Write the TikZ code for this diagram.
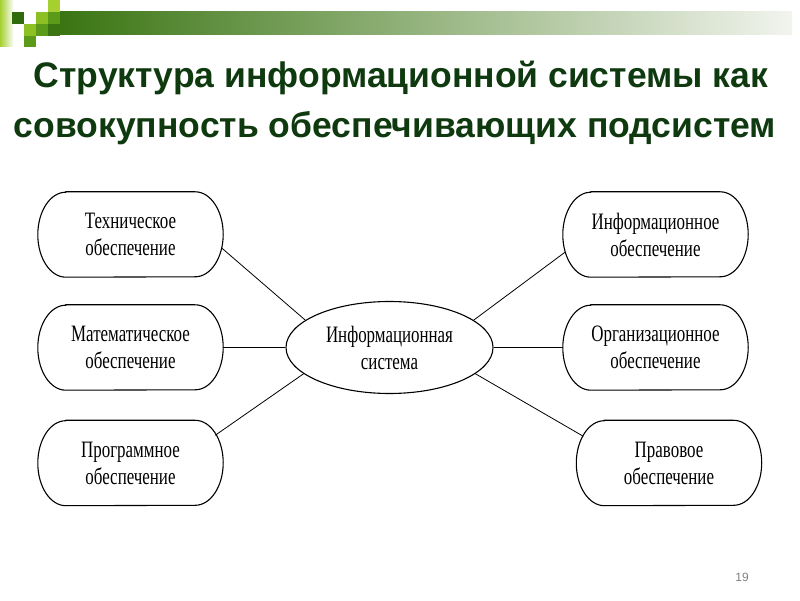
\documentclass[tikz,border=0pt]{standalone}
\usepackage{fontspec}
\setmainfont{Liberation Serif}
\newfontfamily\titlefont{Liberation Sans}
\newfontfamily\condfont[FakeStretch=0.72]{Liberation Serif}
\usetikzlibrary{shapes.geometric}
\definecolor{titlegreen}{HTML}{0F3A0F}
\definecolor{sqdark}{HTML}{2F6A0C}
\definecolor{sqmid}{HTML}{5C9A1A}
\definecolor{sqlight}{HTML}{8DC023}
\definecolor{sqpale}{HTML}{A6D030}
\definecolor{bardark}{HTML}{3A7512}
\definecolor{barend}{HTML}{F2F4EE}
\tikzset{
  box/.style={rectangle, draw=none, minimum width=185pt, minimum height=85pt, inner sep=0pt,
    align=center, font=\condfont\fontsize{23.5}{27}\selectfont},
  outline/.style={draw=black, line width=1.1pt},
  link/.style={draw=black, line width=0.8pt},
  sysnode/.style={ellipse, draw=black, line width=1.1pt, minimum width=207pt, minimum height=92pt,
    inner sep=0pt, align=center, font=\condfont\fontsize{23.5}{27}\selectfont},
  titletext/.style={anchor=base, text=titlegreen, font=\titlefont\bfseries\fontsize{35.5}{40}\selectfont}
}
\newcommand\stadiumpath[1]{%
  \draw[outline] ([xshift=28pt]#1.north west) -- ([xshift=-28pt]#1.north east)
    arc[start angle=90,end angle=-90,x radius=28pt,y radius=42.5pt]
    -- ([xshift=28pt]#1.south west)
    arc[start angle=270,end angle=90,x radius=28pt,y radius=42.5pt] -- cycle;}
\begin{document}
\begin{tikzpicture}[x=1pt,y=1pt]
\useasboundingbox[fill=white] (0,0) rectangle (800,600);
% header decoration
\shade[left color=sqpale, right color=white] (0,600) rectangle (14,553);
\shade[left color=bardark, right color=barend] (60,588) rectangle (792,565);
\fill[sqdark] (12,588) rectangle (24,576);
\fill[sqlight] (36,588) rectangle (48,576);
\fill[sqmid] (48,588) rectangle (60,576);
\fill[sqpale] (48,600) rectangle (60,588);
\fill[sqlight] (24,576) rectangle (36,564);
\fill[sqmid] (36,576) rectangle (48,564);
\fill[bardark] (48,576) rectangle (60,564);
\fill[sqmid] (24,564) rectangle (36,553);
% title
\node[titletext] (t1) at (401,512) {Структура информационной системы как};
\node[titletext] (t2) at (395,462) {совокупность обеспечивающих подсистем};
% nodes
\node[box] (tech) at (130.5,365.5) {Техническое\\обеспечение};
\node[box] (math) at (130.5,252.5) {Математическое\\обеспечение};
\node[box] (prog) at (130.5,137) {Программное\\обеспечение};
\node[box] (info) at (655.5,365.5) {Информационное\\обеспечение};
\node[box] (org) at (655.5,252.5) {Организационное\\обеспечение};
\node[box] (prav) at (669,137) {Правовое\\обеспечение};
\node[sysnode] (sys) at (389.5,252.5) {Информационная\\система};
\stadiumpath{tech}
\stadiumpath{math}
\stadiumpath{prog}
\stadiumpath{info}
\stadiumpath{org}
\stadiumpath{prav}
% connectors
\draw[link] ([shift={(-1.5pt,-13.5pt)}]tech.east) -- (sys.162);
\draw[link] (math.east) -- (sys.west);
\draw[link] ([shift={(-8pt,-15pt)}]prog.north east) -- (sys.197);
\draw[link] ([shift={(2.5pt,-17.5pt)}]info.west) -- (sys.18);
\draw[link] (org.west) -- (sys.east);
\draw[link] ([shift={(7pt,-16pt)}]prav.north west) -- (sys.343);
% page number
\node[text=gray, font=\titlefont\fontsize{12}{14}\selectfont] (pg) at (742,23) {19};
\end{tikzpicture}
\end{document}
